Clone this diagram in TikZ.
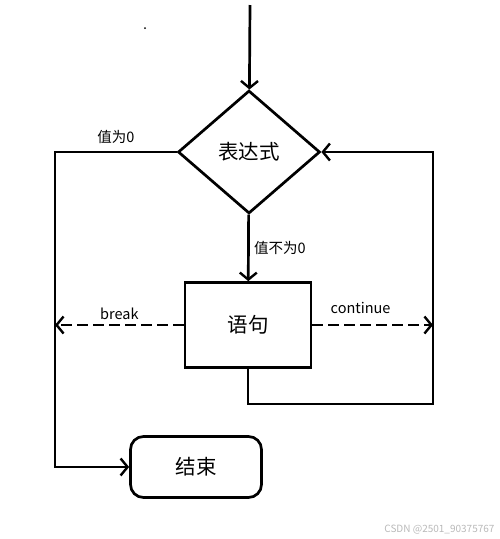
\documentclass[tikz,border=0pt]{standalone}
\usepackage{fontspec}
\setmainfont{Noto Sans CJK SC}
\usepackage{tikz}
\usetikzlibrary{arrows.meta}
\usetikzlibrary{shapes.geometric}
\tikzset{
  flow/.style={line width=2.7pt, -{Straight Barb[length=7pt,width=17pt,line width=2.4pt]}},
  brokenline/.style={dash pattern=on 11pt off 5pt},
  cond/.style={diamond, draw, line width=2.7pt, minimum width=142pt, minimum height=123pt, inner sep=0pt, font=\fontsize{20.5}{24}\selectfont},
  stmtbox/.style={rectangle, draw, line width=2.7pt, minimum width=126pt, minimum height=85pt, font=\fontsize{20.5}{24}\selectfont},
  endbox/.style={rectangle, draw, rounded corners=13pt, line width=2.7pt, minimum width=131pt, minimum height=61pt, font=\fontsize{20.5}{24}\selectfont},
  lbl/.style={font=\fontsize{14.5}{17}\selectfont}
}

\begin{document}
\begin{tikzpicture}[x=1pt,y=-1pt]
\useasboundingbox (0,0) rectangle (500,539);
\fill (145,28) circle (1pt);
\node[cond] (expr) at (249,152) {表达式};
\node[stmtbox] (stmt) at (248,325) {语句};
\node[endbox] (done) at (196,467) {结束};
\coordinate (start) at (250,5);
\coordinate (lt) at (55,152);
\coordinate (brk) at (55,325);
\coordinate (cnt) at (433,325);
\coordinate (rb) at (433,404);
\draw[flow] (start) -- (expr);
\draw[flow] (expr.west) -- node[lbl, above=4pt] {值为0} (lt) |- (done.west);
\draw[flow] (expr) -- node[lbl, right=1pt] {值不为0} (stmt);
\draw[flow] (stmt.south) |- (rb) |- (expr.east);
\draw[flow, brokenline] (stmt.west) -- node[lbl, above=1pt] {break} (brk);
\draw[flow, brokenline] (stmt.east) -- node[lbl, above=7pt, pos=0.4] {continue} (cnt);
\node[anchor=east, gray!55, font=\fontsize{10}{12}\selectfont] (mark) at (498,530) {CSDN @2501\_90375767};
\end{tikzpicture}
\end{document}
